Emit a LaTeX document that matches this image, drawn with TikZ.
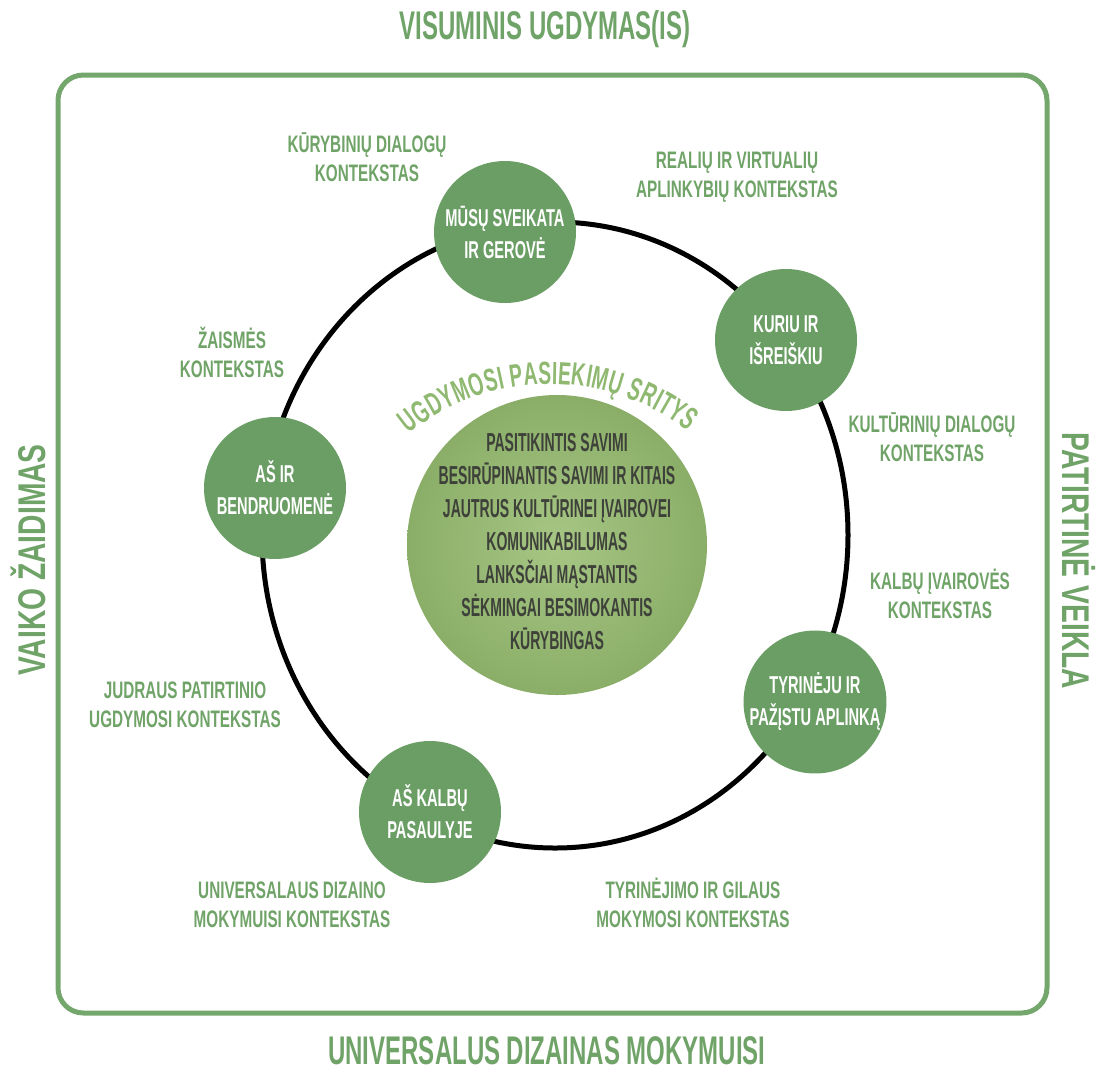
\documentclass[tikz,border=0pt]{standalone}
\usepackage{fontspec}
\newfontfamily\condfont{Liberation Sans}[FakeStretch=0.64]
\newfontfamily\narrowfont{Liberation Sans}[FakeStretch=0.6]
\newfontfamily\tallfont{Liberation Sans}[FakeStretch=0.54]
\newfontfamily\sidefont{Liberation Sans}[FakeStretch=0.73]
\usetikzlibrary{decorations.text}

\definecolor{frameGreen}{RGB}{116,167,108}
\definecolor{areaGreen}{RGB}{107,158,101}
\definecolor{ctxGreen}{RGB}{112,163,104}
\definecolor{coreIn}{RGB}{167,198,132}
\definecolor{coreOut}{RGB}{138,174,104}
\definecolor{coreText}{RGB}{62,64,58}
\definecolor{arcGreen}{RGB}{143,184,112}

\tikzset{every picture/.style={line width=0.75pt}}
\tikzset{
  area/.style={circle, fill=areaGreen, minimum size=106.5pt, inner sep=0pt, align=center, text=white, font=\narrowfont\bfseries\fontsize{18.3}{24}\selectfont},
  core/.style={circle, inner color=coreIn, outer color=coreOut, minimum size=225pt, inner sep=0pt},
  corelist/.style={align=center, inner sep=0pt, text=coreText, font=\tallfont\bfseries\fontsize{19.5}{24.75}\selectfont},
  ctx/.style={align=center, text=ctxGreen, font=\condfont\bfseries\fontsize{17.9}{21.75}\selectfont},
  edgetitle/.style={text=ctxGreen, inner sep=0pt, font=\narrowfont\bfseries\fontsize{30}{30}\selectfont},
  sidetitle/.style={text=ctxGreen, inner sep=0pt, font=\sidefont\bfseries\fontsize{29}{29}\selectfont}
}

\begin{document}
\begin{tikzpicture}[x=0.75pt,y=0.75pt,yscale=-1,xscale=1]
\useasboundingbox (0,0) rectangle (1103,1072);

% frame and ring
\draw [color=frameGreen, line width=3.75pt, rounded corners=19pt] (58,75) rectangle (1047,1013);
\draw [line width=3.75pt] (555,535) ellipse [x radius=293, y radius=313];

% core
\node [core] (sritys) at (557,545) {};
\node [corelist] (srityslist) at (557,542) {PASITIKINTIS SAVIMI\\BESIRŪPINANTIS SAVIMI IR KITAIS\\JAUTRUS KULTŪRINEI ĮVAIROVEI\\KOMUNIKABILUMAS\\LANKSČIAI MĄSTANTIS\\SĖKMINGAI BESIMOKANTIS\\KŪRYBINGAS};
\begin{scope}[yscale=-1]
\path [decorate, decoration={text along path, text align=fit to path, text={|\narrowfont\bfseries\fontsize{24}{24}\selectfont\color{arcGreen}|UGDYMOSI PASIEKIMŲ SRITYS}}] (550,-608) ++(129:224) arc [start angle=129, end angle=52, radius=224];
\end{scope}

% areas
\node [area] (sveikata) at (505,232) {MŪSŲ SVEIKATA\\IR GEROVĖ};
\node [area] (kuriu) at (786,340) {KURIU IR\\IŠREIŠKIU};
\node [area] (bendr) at (275,488) {AŠ IR\\BENDRUOMENĖ};
\node [area] (tyrineju) at (815,702) {TYRINĖJU IR\\PAŽĮSTU APLINKĄ};
\node [area] (kalbu) at (430,812) {AŠ KALBŲ\\PASAULYJE};

% contexts
\node [ctx] (kurybiniu) at (367,157) {KŪRYBINIŲ DIALOGŲ\\KONTEKSTAS};
\node [ctx] (realiu) at (737,177) {REALIŲ IR VIRTUALIŲ\\APLINKYBIŲ KONTEKSTAS};
\node [ctx] (zaismes) at (232,352) {ŽAISMĖS\\KONTEKSTAS};
\node [ctx] (kulturiniu) at (932,437) {KULTŪRINIŲ DIALOGŲ\\KONTEKSTAS};
\node [ctx] (kalbuivair) at (940,594) {KALBŲ ĮVAIROVĖS\\KONTEKSTAS};
\node [ctx] (judraus) at (185,705) {JUDRAUS PATIRTINIO\\UGDYMOSI KONTEKSTAS};
\node [ctx] (univers) at (292,905) {UNIVERSALAUS DIZAINO\\MOKYMUISI KONTEKSTAS};
\node [ctx] (tyrinejimo) at (693,903) {TYRINĖJIMO IR GILAUS\\MOKYMOSI KONTEKSTAS};

% edge titles
\node [edgetitle] (visuminis) at (545,29) {VISUMINIS UGDYMAS(IS)};
\node [edgetitle] (dizainas) at (547,1051) {UNIVERSALUS DIZAINAS MOKYMUISI};
\node [sidetitle, rotate=90] (zaidimas) at (28,560) {VAIKO ŽAIDIMAS};
\node [sidetitle, rotate=-90] (veikla) at (1079,561) {PATIRTINĖ VEIKLA};

\end{tikzpicture}
\end{document}
